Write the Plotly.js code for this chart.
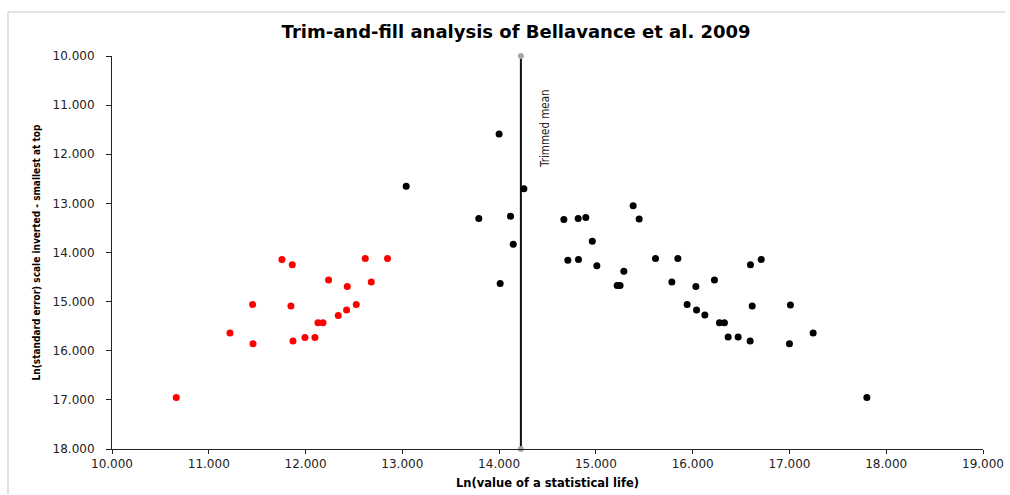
<!DOCTYPE html>
<html>
<head>
<meta charset="utf-8">
<script src="https://cdn.plot.ly/plotly-3.0.1.min.js"></script>
<style>
  html, body { margin: 0; padding: 0; background: #fff; overflow: hidden; }
  #chart { width: 1010px; height: 495px; }
</style>
</head>
<body>
<div id="chart"></div>
<script>
// Observed studies (black)
const observedX = [13.04, 14.00, 14.256, 13.79, 14.118, 14.146, 14.011, 14.669, 14.817, 14.896,
  15.385, 15.447, 14.963, 14.71, 14.82, 15.01, 15.289, 15.616, 15.847, 15.22,
  15.25, 15.785, 16.033, 16.225, 16.597, 16.708, 15.943, 16.04, 16.126, 16.277,
  16.328, 16.615, 17.01, 16.367, 16.47, 16.594, 17.00, 17.245, 17.80];
const observedY = [12.65, 11.59, 12.70, 13.31, 13.26, 13.83, 14.63, 13.33, 13.31, 13.29,
  13.05, 13.32, 13.77, 14.16, 14.14, 14.27, 14.38, 14.12, 14.12, 14.67,
  14.67, 14.60, 14.69, 14.56, 14.25, 14.14, 15.06, 15.17, 15.27, 15.43,
  15.43, 15.09, 15.07, 15.72, 15.72, 15.80, 15.86, 15.64, 16.95];

// Imputed (filled) studies (red)
const filledX = [10.664, 11.219, 11.453, 11.457, 11.756, 11.863, 11.849, 11.87, 11.994, 12.097,
  12.128, 12.18, 12.238, 12.338, 12.424, 12.431, 12.524, 12.617, 12.679, 12.847];
const filledY = [16.95, 15.64, 15.06, 15.86, 14.14, 14.25, 15.09, 15.80, 15.73, 15.73,
  15.43, 15.43, 14.56, 15.28, 15.17, 14.69, 15.06, 14.12, 14.60, 14.12];

// Trimmed mean vertical line
const trimmedMeanX = [14.225, 14.225];
const trimmedMeanY = [10, 18];

const xTickVals = [10, 11, 12, 13, 14, 15, 16, 17, 18, 19];
const xTickLabels = ['10.000', '11.000', '12.000', '13.000', '14.000', '15.000', '16.000', '17.000', '18.000', '19.000'];
const yTickVals = [10, 11, 12, 13, 14, 15, 16, 17, 18];
const yTickLabels = ['10.000', '11.000', '12.000', '13.000', '14.000', '15.000', '16.000', '17.000', '18.000'];

const narrow = 'DejaVu Sans Condensed, Roboto Condensed, Liberation Sans Narrow, Roboto, sans-serif';

const traces = [
  {
    x: trimmedMeanX, y: trimmedMeanY, type: 'scatter', mode: 'lines+markers',
    line: { color: '#111111', width: 2 },
    marker: { color: '#a6a6a6', size: 6 },
    hoverinfo: 'skip', showlegend: false, cliponaxis: false
  },
  {
    x: observedX, y: observedY, type: 'scatter', mode: 'markers',
    marker: { color: '#000000', size: 7 },
    showlegend: false, name: 'Observed'
  },
  {
    x: filledX, y: filledY, type: 'scatter', mode: 'markers',
    marker: { color: '#ff0000', size: 7 },
    showlegend: false, name: 'Filled'
  }
];

const layout = {
  width: 1010, height: 495,
  margin: { l: 112, r: 27, t: 56, b: 46 },
  paper_bgcolor: '#ffffff', plot_bgcolor: '#ffffff',
  showlegend: false,
  title: {
    text: 'Trim-and-fill analysis of Bellavance et al. 2009',
    font: { family: 'DejaVu Sans', size: 18, color: '#000000', weight: 'bold' },
    x: 0.511, xanchor: 'center', y: 0.935, yanchor: 'middle'
  },
  xaxis: {
    range: [10, 19], tickvals: xTickVals, ticktext: xTickLabels,
    showgrid: false, zeroline: false,
    showline: true, linecolor: '#222222', linewidth: 1,
    ticks: 'outside', ticklen: 4, tickcolor: '#222222', tickwidth: 1,
    tickfont: { family: 'DejaVu Sans', size: 12, color: '#222222' },
    title: {
      text: 'Ln(value of a statistical life)',
      font: { family: 'DejaVu Sans', size: 11.5, color: '#000000', weight: 'bold' },
      standoff: 8
    },
    fixedrange: true
  },
  yaxis: {
    range: [18, 10], tickvals: yTickVals, ticktext: yTickLabels,
    showgrid: false, zeroline: false,
    showline: true, linecolor: '#222222', linewidth: 1,
    ticks: 'outside', ticklen: 5, tickcolor: '#222222', tickwidth: 1,
    ticklabelstandoff: 9,
    tickfont: { family: 'DejaVu Sans', size: 12, color: '#222222' },
    title: {
      text: 'Ln(standard error) scale inverted - smallest at top',
      font: { family: narrow, size: 10, color: '#000000', weight: 'bold', stretch: 'condensed' },
      standoff: 10
    },
    fixedrange: true
  },
  annotations: [
    {
      x: 14.476, y: 11.48, xref: 'x', yref: 'y',
      text: 'Trimmed mean', showarrow: false, textangle: -90,
      font: { family: narrow, size: 11.5, color: '#222222', stretch: 'condensed' },
      xanchor: 'center', yanchor: 'middle'
    }
  ],
  shapes: [
    {
      type: 'line', xref: 'paper', yref: 'paper',
      x0: -0.1194, x1: 1.025, y0: 1.112, y1: 1.112,
      line: { color: '#d9d9d9', width: 1.5 }
    },
    {
      type: 'line', xref: 'paper', yref: 'paper',
      x0: -0.1194, x1: -0.1194, y0: 1.112, y1: -0.115,
      line: { color: '#d9d9d9', width: 1.5 }
    }
  ]
};

Plotly.newPlot('chart', traces, layout, { displayModeBar: false, staticPlot: true });
</script>
</body>
</html>
